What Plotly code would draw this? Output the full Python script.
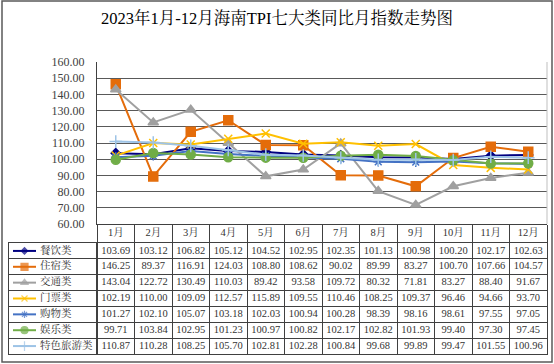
import plotly.graph_objects as go

W, H = 554, 364

months = ["1月", "2月", "3月", "4月", "5月", "6月", "7月", "8月", "9月", "10月", "11月", "12月"]
names = ["餐饮类", "住宿类", "交通类", "门票类", "购物类", "娱乐类", "特色旅游类"]

canyin = [103.69, 103.12, 106.82, 105.12, 104.52, 102.95, 102.35, 101.13, 100.98, 100.20, 102.17, 102.63]
zhusu = [146.25, 89.37, 116.91, 124.03, 108.80, 108.62, 90.02, 89.99, 83.27, 100.70, 107.66, 104.57]
jiaotong = [143.04, 122.72, 130.49, 110.03, 89.42, 93.58, 109.72, 80.32, 71.81, 83.27, 88.40, 91.67]
menpiao = [102.19, 110.00, 109.09, 112.57, 115.89, 109.55, 110.46, 108.25, 109.37, 96.46, 94.66, 93.70]
gouwu = [101.27, 102.10, 105.07, 103.18, 102.03, 100.94, 100.28, 98.39, 98.16, 98.61, 97.55, 97.05]
yule = [99.71, 103.84, 102.95, 101.23, 100.97, 100.82, 102.17, 102.82, 101.93, 99.40, 97.30, 97.45]
tese = [110.87, 110.28, 108.25, 105.70, 102.81, 102.28, 100.84, 99.68, 99.89, 99.47, 101.55, 100.96]

series = [canyin, zhusu, jiaotong, menpiao, gouwu, yule, tese]
colors = ["#000080", "#E46C0A", "#A0A0A0", "#FFC000", "#4472C4", "#70AD47", "#9DC3E6"]
symbols = ["diamond", "square", "triangle-up", "x-thin", "asterisk", "circle", "cross-thin"]
msizes = [7, 9, 9, 8, 8, 9, 9]

title = "2023年1月-12月海南TPI七大类同比月指数走势图"


def px_x(p):
    return p / W


def px_y(p):
    return (H - p) / H


serif = "Liberation Serif, Noto Serif CJK SC, Noto Sans CJK SC, serif"
grid_c = "#404040"

# pixel layout of the chart
PL, PR, PT, PB = 97, 547, 62, 224     # plot area
TL = 9                                 # table left edge
HB = 243                               # header bottom
TB = 354                               # table bottom

fig = go.Figure()

# chart lines
for name, vals, c, s, ms in zip(names, series, colors, symbols, msizes):
    fig.add_trace(go.Scatter(
        x=months, y=vals, name=name, mode="lines+markers",
        line=dict(color=c, width=2),
        marker=dict(symbol=s, size=ms, color=c, line=dict(color=c, width=1.5)),
        xaxis="x", yaxis="y", showlegend=False))

# header month labels
fig.add_trace(go.Scatter(
    x=months, y=[0.5] * len(months), mode="text", text=months,
    textfont=dict(family=serif, size=10.5, color="#333333"),
    xaxis="x", yaxis="y4", showlegend=False, hoverinfo="skip"))

# table values
tx, ty, tt = [], [], []
for name, vals in zip(names, series):
    for m, v in zip(months, vals):
        tx.append(m)
        ty.append(name)
        tt.append(f"{v:.2f}")
fig.add_trace(go.Scatter(
    x=tx, y=ty, mode="text", text=tt,
    textfont=dict(family=serif, size=10.5, color="#333333"),
    xaxis="x3", yaxis="y3", showlegend=False, hoverinfo="skip"))

# legend keys + row names
for name, c, s, ms in zip(names, colors, symbols, msizes):
    fig.add_trace(go.Scatter(
        x=[4, 15.5, 27], y=[name] * 3, mode="lines+markers",
        line=dict(color=c, width=2),
        marker=dict(symbol=s, size=[0, ms - 2, 0], color=c, line=dict(color=c, width=1.2)),
        xaxis="x2", yaxis="y2", showlegend=False, hoverinfo="skip"))
fig.add_trace(go.Scatter(
    x=[31] * len(names), y=names, mode="text", text=names, textposition="middle right",
    textfont=dict(family=serif, size=10.5, color="#333333"),
    xaxis="x2", yaxis="y2", showlegend=False, hoverinfo="skip"))

cat_box = dict(showline=True, mirror=True, linecolor=grid_c, linewidth=1,
               showgrid=True, gridcolor=grid_c, gridwidth=1, tickson="boundaries",
               ticks="", showticklabels=False, zeroline=False, fixedrange=True)

fig.update_layout(
    width=W, height=H,
    margin=dict(l=0, r=0, t=0, b=0),
    paper_bgcolor="white", plot_bgcolor="rgba(0,0,0,0)",
    hovermode=False,
    title=dict(text=title, x=0.5, xanchor="center", xref="paper",
               y=px_y(18), yanchor="middle", yref="container",
               font=dict(family=serif, size=16.5, color="#000000")),
    xaxis=dict(domain=[px_x(PL), px_x(PR)], type="category", categoryorder="array",
               categoryarray=months, range=[-0.5, 11.5], anchor="y",
               showticklabels=False, showgrid=False, showline=True,
               linecolor=grid_c, linewidth=1, ticks="outside", ticklen=HB - PB,
               tickcolor=grid_c, tickwidth=1, tickson="boundaries", automargin=False),
    yaxis=dict(domain=[px_y(PB), px_y(PT)], range=[60, 160], dtick=10, tickformat=".2f",
               anchor="x", showgrid=True, gridcolor="#595959", gridwidth=1, zeroline=False,
               showline=True, linecolor=grid_c, linewidth=1, ticks="",
               ticklabelstandoff=9,
               tickfont=dict(family=serif, size=12, color="#404040"), automargin=False),
    yaxis4=dict(domain=[px_y(HB), px_y(PB)], range=[0, 1], anchor="x", visible=False,
                fixedrange=True),
    xaxis3=dict(domain=[px_x(PL), px_x(PR)], type="category", categoryorder="array",
                categoryarray=months, range=[-0.5, 11.5], anchor="y3", **cat_box),
    yaxis3=dict(domain=[px_y(TB), px_y(HB)], type="category", categoryorder="array",
                categoryarray=names, range=[6.5, -0.5], anchor="x3", **cat_box),
    xaxis2=dict(domain=[px_x(TL), px_x(PL)], range=[0, PL - TL], anchor="y2",
                showline=True, mirror=True, linecolor=grid_c, linewidth=1,
                showgrid=False, zeroline=False, showticklabels=False, ticks="",
                fixedrange=True),
    yaxis2=dict(domain=[px_y(TB), px_y(HB)], type="category", categoryorder="array",
                categoryarray=names, range=[6.5, -0.5], anchor="x2", **cat_box),
    shapes=[
        dict(type="line", xref="x domain", yref="y domain", x0=1, x1=1, y0=0, y1=1,
             line=dict(color="#bfbfbf", width=1)),
        dict(type="rect", xref="paper", yref="paper", x0=px_x(2), x1=px_x(552),
             y0=px_y(362), y1=px_y(1), line=dict(color="#595959", width=1.5)),
    ],
)

fig.write_html("out.html", config={"displayModeBar": False, "staticPlot": True},
               post_script="document.body.style.margin='0';")
